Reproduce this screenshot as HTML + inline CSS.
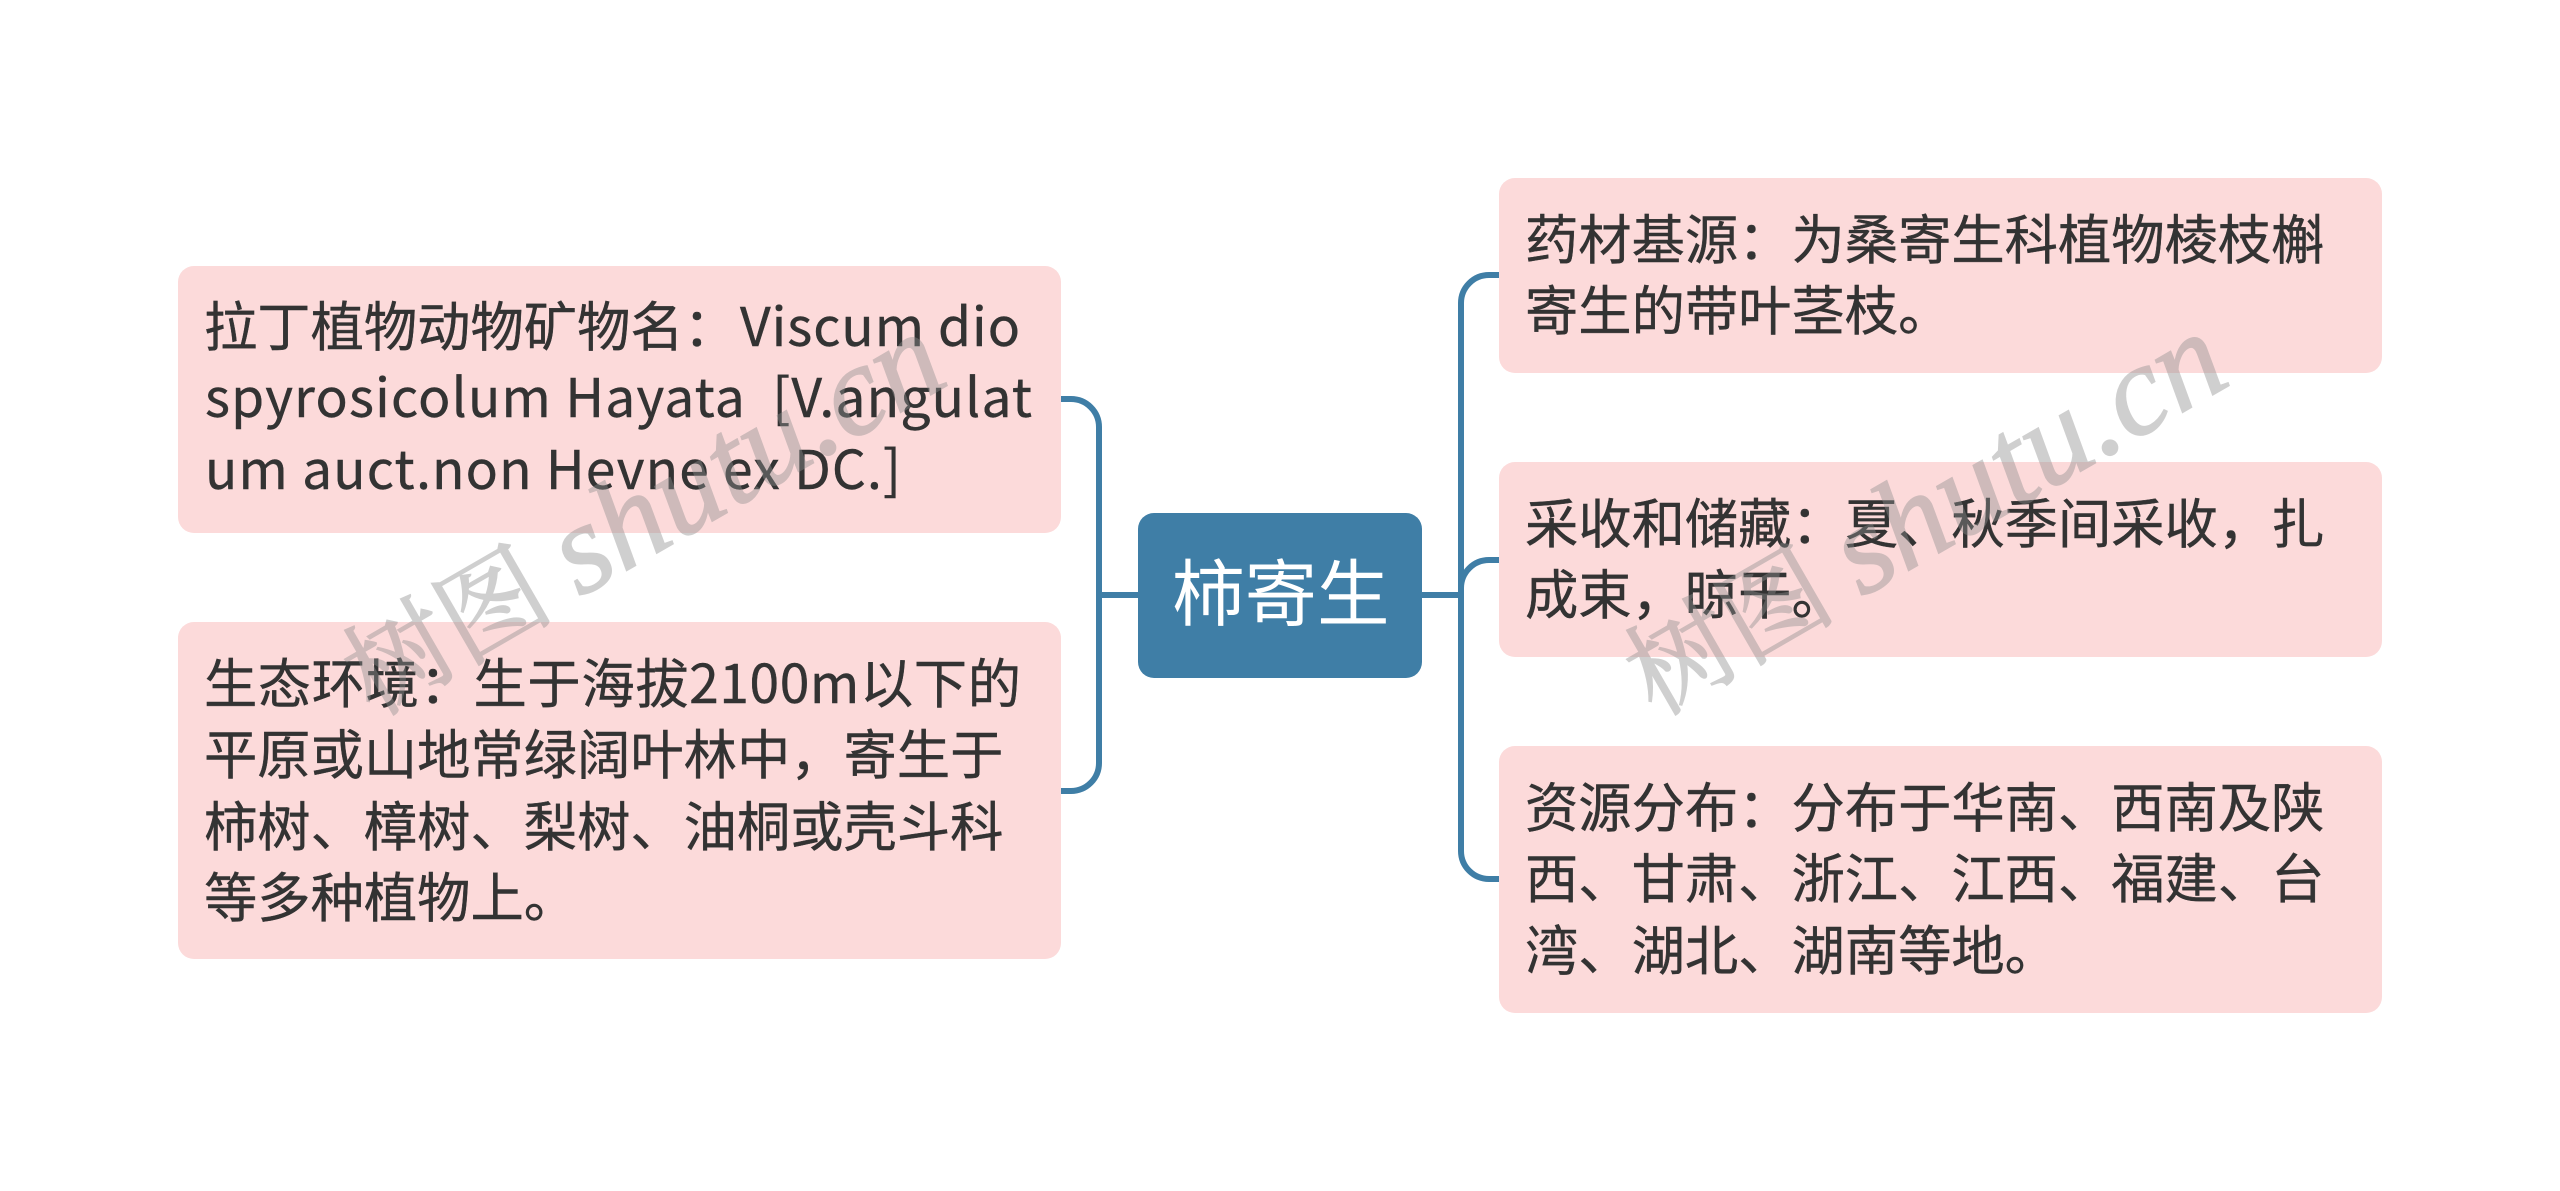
<!DOCTYPE html>
<html lang="zh">
<head>
<meta charset="utf-8">
<title>柿寄生</title>
<style>
html,body{margin:0;padding:0;background:#fff;width:2560px;height:1191px;overflow:hidden}
svg{display:block}
.c{font-family:"Noto Sans CJK SC",sans-serif;font-size:53.3px;fill:#333;stroke:#333;stroke-width:.4px}
.w{font-family:"Liberation Serif","Noto Serif CJK SC",serif;fill:#8f8f8f;stroke:#8f8f8f;stroke-width:1.5px;font-size:106px;opacity:.42}
.w tspan{font-size:128px;font-style:italic}
</style>
</head>
<body>
<svg width="2560" height="1191" viewBox="0 0 2560 1191" xmlns="http://www.w3.org/2000/svg">
<g fill="none" stroke="#3f7ea6" stroke-width="6">
<path d="M1061 399H1071A28 28 0 0 1 1099 427V763A28 28 0 0 1 1071 791H1061"/>
<path d="M1099 595H1138"/>
<path d="M1422 595H1461"/>
<path d="M1499 275H1489A28 28 0 0 0 1461 303V851A28 28 0 0 0 1489 879H1499"/>
<path d="M1499 560H1489A28 28 0 0 0 1461 588V600"/>
</g>
<rect x="1138" y="513" width="284" height="165" rx="16" fill="#3f7ea6"/>
<g fill="#fcdada">
<rect x="178" y="266" width="883" height="267" rx="16"/>
<rect x="178" y="622" width="883" height="337" rx="16"/>
<rect x="1499" y="178" width="883" height="195" rx="16"/>
<rect x="1499" y="462" width="883" height="195" rx="16"/>
<rect x="1499" y="746" width="883" height="267" rx="16"/>
</g>
<text x="1172" y="620" style="font-family:'Noto Sans CJK SC',sans-serif;font-size:72.5px;fill:#fff">柿寄生</text>

<text class="c" x="204" y="346">拉丁植物动物矿物名：</text>
<text class="c" x="740" y="346" textLength="280">Viscum dio</text>
<text class="c" x="205" y="417" textLength="827">spyrosicolum Hayata&#160;&#160;[V.angulat</text>
<text class="c" x="205" y="489" textLength="696">um auct.non Hevne ex DC.]</text>

<text class="c" x="204" y="703" textLength="817">生态环境：生于海拔2100m以下的</text>
<text class="c" x="204" y="774">平原或山地常绿阔叶林中，寄生于</text>
<text class="c" x="204" y="846">柿树、樟树、梨树、油桐或壳斗科</text>
<text class="c" x="204" y="917">等多种植物上。</text>

<text class="c" x="1525" y="259">药材基源：为桑寄生科植物棱枝槲</text>
<text class="c" x="1525" y="330">寄生的带叶茎枝。</text>

<text class="c" x="1525" y="543">采收和储藏：夏、秋季间采收，扎</text>
<text class="c" x="1525" y="614">成束，晾干。</text>

<text class="c" x="1525" y="827">资源分布：分布于华南、西南及陕</text>
<text class="c" x="1525" y="898">西、甘肃、浙江、江西、福建、台</text>
<text class="c" x="1525" y="970">湾、湖北、湖南等地。</text>

<text class="w" transform="translate(373 717) rotate(-30)">树图 <tspan>shutu.cn</tspan></text>
<text class="w" transform="translate(1655 717) rotate(-30)">树图 <tspan>shutu.cn</tspan></text>
</svg>
</body>
</html>
